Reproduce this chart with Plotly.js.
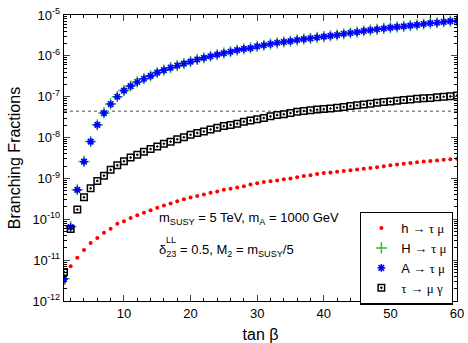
<!DOCTYPE html>
<html>
<head>
<meta charset="utf-8">
<script src="https://cdn.plot.ly/plotly-3.0.1.min.js"></script>
<style>html,body{margin:0;padding:0;background:#fff;}#chart{width:468px;height:343px;}</style>
</head>
<body>
<div id="chart"></div>
<script>
// tan beta values
const tanBeta = [];
for (let i = 1; i <= 60; i++) tanBeta.push(i);

// h -> tau mu
const hTauMu = [
  2.8e-12, 7.1e-12, 1.15e-11, 1.78e-11, 2.63e-11, 3.47e-11, 4.68e-11, 5.89e-11, 7.76e-11, 8.9e-11,
  1.07e-10, 1.26e-10, 1.45e-10, 1.66e-10, 1.91e-10, 2.19e-10, 2.45e-10, 2.75e-10, 3.09e-10, 3.39e-10,
  3.72e-10, 4.07e-10, 4.47e-10, 4.79e-10, 5.25e-10, 5.62e-10, 6.03e-10, 6.46e-10, 7.08e-10, 7.59e-10,
  8.13e-10, 8.51e-10, 8.91e-10, 9.55e-10, 1.0e-9, 1.07e-9, 1.15e-9, 1.20e-9, 1.29e-9, 1.35e-9,
  1.40e-9, 1.46e-9, 1.52e-9, 1.58e-9, 1.65e-9, 1.72e-9, 1.80e-9, 1.88e-9, 1.98e-9, 2.10e-9,
  2.20e-9, 2.30e-9, 2.38e-9, 2.48e-9, 2.58e-9, 2.66e-9, 2.76e-9, 2.85e-9, 2.95e-9, 3.05e-9
];

// H -> tau mu
const HTauMu = [
  3.5e-12, 6.6e-11, 5.3e-10, 2.6e-9, 8.0e-9, 2.05e-8, 4.0e-8, 6.65e-8, 1.0e-7, 1.42e-7,
  1.83e-7, 2.3e-7, 2.76e-7, 3.25e-7, 3.9e-7, 4.48e-7, 5.14e-7, 5.76e-7, 6.47e-7, 7.25e-7,
  8.14e-7, 8.92e-7, 9.78e-7, 1.07e-6, 1.17e-6, 1.26e-6, 1.38e-6, 1.48e-6, 1.56e-6, 1.70e-6,
  1.82e-6, 1.95e-6, 2.09e-6, 2.19e-6, 2.30e-6, 2.45e-6, 2.57e-6, 2.69e-6, 2.82e-6, 2.95e-6,
  3.09e-6, 3.24e-6, 3.47e-6, 3.63e-6, 3.80e-6, 4.07e-6, 4.27e-6, 4.47e-6, 4.68e-6, 4.90e-6,
  5.13e-6, 5.25e-6, 5.50e-6, 5.75e-6, 6.03e-6, 6.31e-6, 6.46e-6, 6.76e-6, 7.08e-6, 7.24e-6
];

// A -> tau mu
const ATauMu = [
  3.47e-12, 6.46e-11, 5.25e-10, 2.57e-9, 7.94e-9, 2.04e-8, 3.98e-8, 6.61e-8, 1.0e-7, 1.41e-7,
  1.82e-7, 2.29e-7, 2.75e-7, 3.24e-7, 3.89e-7, 4.47e-7, 5.13e-7, 5.75e-7, 6.46e-7, 7.24e-7,
  8.13e-7, 8.91e-7, 9.77e-7, 1.07e-6, 1.17e-6, 1.26e-6, 1.38e-6, 1.48e-6, 1.55e-6, 1.70e-6,
  1.82e-6, 1.95e-6, 2.09e-6, 2.19e-6, 2.29e-6, 2.45e-6, 2.57e-6, 2.69e-6, 2.82e-6, 2.95e-6,
  3.09e-6, 3.24e-6, 3.47e-6, 3.63e-6, 3.80e-6, 4.07e-6, 4.27e-6, 4.47e-6, 4.68e-6, 4.90e-6,
  5.13e-6, 5.25e-6, 5.50e-6, 5.75e-6, 6.03e-6, 6.31e-6, 6.46e-6, 6.76e-6, 7.08e-6, 7.24e-6
];

// tau -> mu gamma
const tauMuGamma = [
  5.13e-12, 5.75e-11, 1.74e-10, 3.47e-10, 5.75e-10, 8.71e-10, 1.17e-9, 1.62e-9, 2.09e-9, 2.63e-9,
  3.24e-9, 3.80e-9, 4.47e-9, 5.25e-9, 6.03e-9, 7.08e-9, 7.94e-9, 9.12e-9, 1.02e-8, 1.17e-8,
  1.29e-8, 1.41e-8, 1.58e-8, 1.74e-8, 1.91e-8, 2.04e-8, 2.19e-8, 2.45e-8, 2.63e-8, 2.82e-8,
  3.02e-8, 3.31e-8, 3.55e-8, 3.72e-8, 3.98e-8, 4.27e-8, 4.47e-8, 4.66e-8, 4.84e-8, 5.0e-8,
  5.15e-8, 5.37e-8, 5.62e-8, 5.89e-8, 6.17e-8, 6.46e-8, 6.76e-8, 7.08e-8, 7.41e-8, 7.59e-8,
  7.94e-8, 8.32e-8, 8.51e-8, 8.91e-8, 9.12e-8, 9.33e-8, 9.77e-8, 1.0e-7, 1.02e-7, 1.07e-7
];

// experimental bound on tau -> mu gamma
const tauMuGammaLimit = 4.4e-8;
const limitX = [1, 60];

const yTickVals = [1e-12, 1e-11, 1e-10, 1e-9, 1e-8, 1e-7, 1e-6, 1e-5];
const yTickText = ['10<sup>-12</sup>', '10<sup>-11</sup>', '10<sup>-10</sup>', '10<sup>-9</sup>',
  '10<sup>-8</sup>', '10<sup>-7</sup>', '10<sup>-6</sup>', '10<sup>-5</sup>'];
const xTickVals = [10, 20, 30, 40, 50, 60];

const labels = [
  'h → <span style="font-family:Liberation Serif">τ μ</span>',
  'H → <span style="font-family:Liberation Serif">τ μ</span>',
  'A → <span style="font-family:Liberation Serif">τ μ</span>',
  '<span style="font-family:Liberation Serif">τ</span> → <span style="font-family:Liberation Serif">μ γ</span>'
];

const FONT = 'Liberation Sans, Arial, Helvetica, sans-serif';

const traces = [
  {x: limitX, y: [tauMuGammaLimit, tauMuGammaLimit], mode: 'lines', showlegend: false,
   line: {color: '#8a8a8a', width: 1.5, dash: 'dot'}, hoverinfo: 'skip'},
  {x: tanBeta, y: hTauMu, mode: 'markers', name: labels[0],
   marker: {symbol: 'circle', size: 4, color: '#ff0000'}},
  {x: tanBeta, y: HTauMu, mode: 'markers', name: labels[1],
   marker: {symbol: 'cross-thin-open', size: 8, line: {color: '#33bb33', width: 1.5}, color: '#33bb33'}},
  {x: tanBeta, y: ATauMu, mode: 'markers', name: labels[2],
   marker: {symbol: 'asterisk-open', size: 6.5, line: {color: '#0000ff', width: 1.6}, color: '#0000ff'}},
  {x: tanBeta, y: tauMuGamma, mode: 'markers', name: labels[3],
   marker: {symbol: 'square-open-dot', size: 6.5, line: {color: '#000000', width: 1.5}, color: '#000000'}}
];

const layout = {
  width: 468, height: 343,
  margin: {l: 64, r: 11, t: 15, b: 42, pad: 0},
  paper_bgcolor: '#ffffff', plot_bgcolor: '#ffffff',
  font: {family: FONT, size: 13, color: '#000000'},
  showlegend: true,
  xaxis: {
    range: [1, 60], tickvals: xTickVals, ticks: 'inside', ticklen: 6, tickwidth: 1,
    showline: true, linecolor: '#000', linewidth: 1.3, mirror: 'allticks', showgrid: false, zeroline: false,
    tickfont: {size: 13},
    minor: {dtick: 2, ticks: 'inside', ticklen: 3, tickcolor: '#000', showgrid: false},
    title: {text: 'tan β', font: {size: 16}, standoff: 10}
  },
  yaxis: {
    type: 'log', range: [-12, -5], tickvals: yTickVals, ticktext: yTickText,
    ticks: 'inside', ticklen: 6, tickwidth: 1,
    showline: true, linecolor: '#000', linewidth: 1.3, mirror: 'allticks', showgrid: false, zeroline: false,
    tickfont: {size: 13},
    minor: {dtick: 'D1', ticks: 'inside', ticklen: 3, tickcolor: '#000', showgrid: false},
    title: {text: 'Branching Fractions', font: {size: 16}, standoff: 8}
  },
  legend: {
    x: 0.99, y: 0.312, xanchor: 'right', yanchor: 'top',
    bgcolor: '#ffffff', bordercolor: '#000000', borderwidth: 1.3,
    font: {size: 13}, itemwidth: 30, tracegroupgap: 2
  },
  annotations: [
    {xref: 'paper', yref: 'paper', x: 0.237, y: 0.29, xanchor: 'left', yanchor: 'middle', showarrow: false,
     text: 'm<sub>SUSY</sub> = 5 TeV, m<sub>A</sub> = 1000 GeV', font: {size: 13}},
    {xref: 'paper', yref: 'paper', x: 0.237, y: 0.178, xanchor: 'left', yanchor: 'middle', showarrow: false,
     text: 'δ<sub>23</sub> = 0.5, M<sub>2</sub> = m<sub>SUSY</sub>/5', font: {size: 13}},
    {xref: 'paper', yref: 'paper', x: 0.254, y: 0.212, xanchor: 'left', yanchor: 'middle', showarrow: false,
     text: 'LL', font: {size: 9}}
  ]
};

Plotly.newPlot('chart', traces, layout, {displayModeBar: false, staticPlot: true});
</script>
</body>
</html>
